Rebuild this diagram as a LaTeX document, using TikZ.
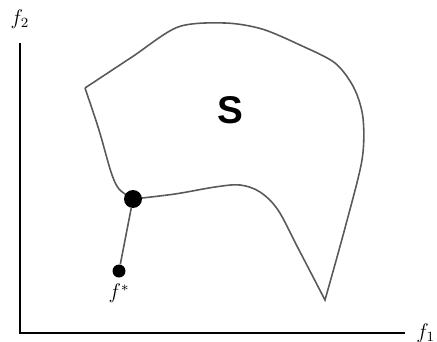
\documentclass[tikz,border=0pt]{standalone}
\usepackage{fontspec}
\newfontfamily\setfont{Liberation Sans}
\usepackage{tikz}
\usetikzlibrary{positioning}

\definecolor{edgegray}{gray}{0.35}
\tikzset{
  bigdot/.style={circle, fill=black, inner sep=0pt, minimum size=0.36cm},
  smalldot/.style={circle, fill=black, inner sep=0pt, minimum size=0.26cm},
  axislabel/.style={font=\fontsize{12}{14}\selectfont}
}

\begin{document}
\begin{tikzpicture}[x=0.02cm, y=-0.02cm]
\useasboundingbox (0,0) rectangle (437,342);
% axes
\coordinate (origin) at (20,333);
\coordinate (ytop) at (20,43);
\coordinate (xend) at (405,333);
\draw[line width=1.7pt] (ytop) -- (origin) -- (xend);
\node[axislabel] (f2) at (20,19) {$f_2$};
\node[axislabel, right=3pt of xend] (f1) {$f_1$};
% the set S
\draw[edgegray, line width=0.9pt]
  plot[smooth, tension=0.5] coordinates {(85,88) (132,57) (178,27) (225,23) (262,29) (300,45) (335,63) (354,88) (363,118) (362,160) (345,228) (325,300)}
  -- plot[smooth, tension=0.55] coordinates {(325,300) (298,248) (278,210) (260,192) (240,185) (215,187) (175,194) (133,199)}
  -- plot[smooth, tension=0.5] coordinates {(133,199) (119,189) (111,172) (99,130) (85,88)};
\node[font=\setfont\bfseries\fontsize{22}{24}\selectfont] (S) at (230,110) {S};
% points
\node[bigdot] (pareto) at (133,199) {};
\node[smalldot] (ideal) at (119,271) {};
\node[axislabel, below=0pt of ideal] (ideallabel) {$f^*$};
\draw[edgegray, line width=0.9pt] (pareto) -- (ideal);
\end{tikzpicture}
\end{document}
